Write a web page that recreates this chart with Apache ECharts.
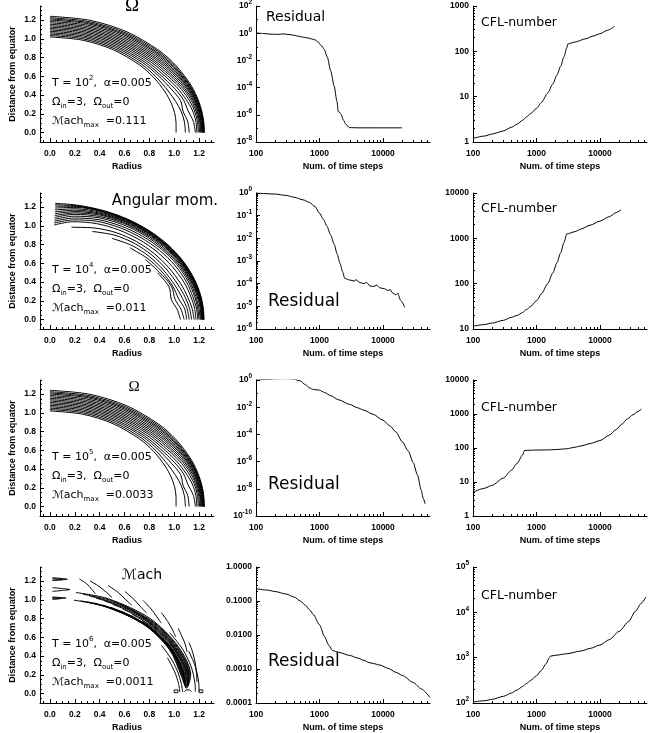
<!DOCTYPE html>
<html>
<head>
<meta charset="utf-8">
<script src="https://cdn.jsdelivr.net/npm/echarts@6.0.0/dist/echarts.min.js"></script>
<style>
  html, body { margin: 0; padding: 0; background: #fff; }
  #chart { width: 657px; height: 733px; }
</style>
</head>
<body>
<div id="chart"></div>
<script>
// ---- convergence runs: [time step, value] ----
const residualT2 = [[100,1.05],[130,0.95],[170,0.85],[220,0.82],[270,0.88],[330,0.8],[400,0.7],[480,0.58],[560,0.5],[650,0.45],[750,0.38],[850,0.32],[950,0.23],[1050,0.13],[1180,0.069],[1330,0.017],[1500,1.7e-3],[1700,1.3e-4],[1880,1e-5],[1975,1.7e-6],[2080,1.5e-6],[2170,1.15e-6],[2390,4e-7],[2600,2e-7],[2950,1.15e-7],[4000,1.1e-7],[20000,1.1e-7]];
const cflT2 = [[100,1.2],[150,1.35],[200,1.5],[300,1.75],[400,2.1],[500,2.5],[600,3.0],[700,3.6],[800,4.2],[1000,5.5],[1200,7.5],[1500,12],[1800,19],[2100,30],[2400,47],[2700,75],[3000,120],[3100,145],[4000,160],[6000,190],[8000,220],[10000,245],[13000,290],[17000,355]];
const residualT4 = [[100,1.0],[200,0.9],[300,0.78],[400,0.65],[550,0.5],[700,0.38],[850,0.25],[1000,0.13],[1150,0.07],[1300,0.035],[1500,0.014],[1700,5.5e-3],[1900,2e-3],[2100,8e-4],[2300,3.5e-4],[2500,1.7e-4],[3000,1.45e-4],[3500,1.3e-4],[3800,1.5e-4],[4200,1.15e-4],[5000,1.0e-4],[5500,1.15e-4],[6200,8e-5],[7000,7.5e-5],[8000,8.5e-5],[9000,6.5e-5],[10500,6e-5],[12000,5e-5],[13000,5.5e-5],[14000,4e-5],[16000,3.2e-5],[17000,3.8e-5],[19000,1.8e-5],[22000,9e-6]];
const cflT4 = [[100,11.5],[150,12.5],[200,13.5],[300,15.5],[400,18],[500,20],[600,23],[700,27],[800,31],[1000,42],[1200,60],[1500,100],[1800,170],[2100,290],[2400,480],[2700,800],[3000,1250],[4000,1400],[5000,1600],[7000,1950],[10000,2400],[14000,3000],[18000,3700],[21500,4300]];
const residualT5 = [[100,1.0],[150,1.1],[200,1.2],[300,1.25],[400,1.15],[500,0.85],[600,0.45],[700,0.26],[800,0.2],[900,0.19],[1000,0.18],[1200,0.12],[1500,0.07],[2000,0.035],[3000,0.016],[4000,0.009],[5000,0.006],[7000,3e-3],[10000,1.1e-3],[13000,4e-4],[16000,1.5e-4],[20000,3e-5],[25000,6e-6],[30000,8e-7],[35000,1e-7],[40000,8e-9],[43000,2e-9],[46000,8e-10]];
const cflT5 = [[100,5],[150,6.5],[200,8],[300,13],[400,22],[500,36],[600,62],[650,85],[800,86],[1000,87],[1500,88],[2000,90],[3000,95],[4000,105],[5000,115],[7000,135],[10000,165],[14000,240],[18000,350],[22000,500],[27000,720],[33000,950],[40000,1200],[45000,1400]];
const residualT6 = [[100,0.23],[150,0.21],[200,0.19],[300,0.16],[400,0.13],[500,0.1],[600,0.075],[700,0.055],[800,0.04],[1000,0.02],[1200,9e-3],[1400,5e-3],[1600,3.5e-3],[2000,3.1e-3],[3000,2.5e-3],[4000,2.1e-3],[5000,1.8e-3],[6000,1.55e-3],[7000,1.45e-3],[9000,1.3e-3],[12000,1.05e-3],[16000,8e-4],[20000,6.5e-4],[30000,4e-4],[40000,2.6e-4],[55000,1.45e-4]];
const cflT6 = [[100,105],[150,112],[200,120],[300,140],[400,165],[500,195],[600,230],[700,270],[800,310],[1000,400],[1200,530],[1400,720],[1600,1000],[1650,1080],[2000,1130],[3000,1220],[5000,1400],[7000,1600],[10000,1900],[14000,2500],[20000,3800],[28000,6200],[36000,10500],[45000,16000],[53000,22000]];

// ---- contour lines of the meridional plane, as radius at given latitude (deg) ----
const omegaLat = [90, 75, 60, 45, 35, 25, 18, 12, 6, 0];
const omegaT2 = [
  [1.020,1.020,1.020,1.020,1.021,1.023,1.025,1.025,1.020,1.015],
  [1.035,1.035,1.035,1.037,1.040,1.050,1.065,1.080,1.088,1.090],
  [1.050,1.050,1.051,1.055,1.062,1.082,1.105,1.095,1.115,1.120],
  [1.065,1.065,1.066,1.071,1.080,1.108,1.130,1.135,1.160,1.170],
  [1.080,1.080,1.082,1.088,1.100,1.130,1.150,1.170,1.180,1.182],
  [1.095,1.095,1.097,1.105,1.118,1.150,1.170,1.185,1.192,1.194],
  [1.110,1.110,1.112,1.120,1.135,1.165,1.185,1.196,1.202,1.204],
  [1.125,1.125,1.127,1.135,1.150,1.178,1.196,1.205,1.210,1.212],
  [1.140,1.140,1.142,1.150,1.165,1.190,1.205,1.212,1.216,1.218],
  [1.155,1.155,1.157,1.164,1.178,1.200,1.212,1.218,1.221,1.223],
  [1.170,1.170,1.172,1.178,1.190,1.208,1.218,1.223,1.226,1.227],
  [1.185,1.185,1.187,1.192,1.201,1.215,1.224,1.228,1.230,1.231],
  [1.200,1.200,1.201,1.205,1.212,1.222,1.229,1.232,1.234,1.234],
  [1.212,1.212,1.213,1.216,1.221,1.228,1.233,1.236,1.237,1.237],
  [1.225,1.225,1.226,1.228,1.230,1.234,1.237,1.239,1.240,1.240],
  [1.240,1.240,1.240,1.240,1.241,1.242,1.243,1.243,1.243,1.243]
];
const omegaT5 = omegaT2.map(c => c.slice());

const angLat = [88, 80, 70, 60, 50, 40, 30, 20, 12, 6, 0];
const angMomT4 = [
  [1.240,1.240,1.240,1.240,1.240,1.240,1.240,1.240,1.240,1.240,1.240],
  [1.225,1.232,1.235,1.236,1.236,1.236,1.236,1.236,1.237,1.237,1.237],
  [1.210,1.225,1.230,1.232,1.232,1.232,1.232,1.233,1.234,1.235,1.235],
  [1.190,1.215,1.225,1.227,1.228,1.228,1.229,1.230,1.232,1.233,1.233],
  [1.170,1.200,1.215,1.220,1.222,1.223,1.225,1.227,1.230,1.230,1.230],
  [1.150,1.185,1.205,1.213,1.216,1.218,1.220,1.223,1.226,1.228,1.228],
  [1.130,1.170,1.195,1.205,1.210,1.212,1.215,1.218,1.222,1.225,1.225],
  [1.110,1.155,1.185,1.195,1.200,1.205,1.208,1.212,1.217,1.220,1.220],
  [1.090,1.140,1.170,1.185,1.190,1.195,1.200,1.205,1.210,1.215,1.215],
  [1.070,1.120,1.155,1.170,1.178,1.183,1.190,1.196,1.200,1.205,1.210],
  [1.050,1.100,1.135,1.150,1.160,1.170,1.178,1.185,1.190,1.195,1.200],
  [1.030,1.080,1.115,1.130,1.140,1.150,1.160,1.170,1.175,1.185,1.190],
  [1.010,1.060,1.090,1.105,1.115,1.125,1.135,1.150,1.160,1.170,1.175],
  [null,1.000,1.040,1.070,1.085,1.095,1.105,1.120,1.135,1.150,1.160],
  [null,null,1.000,1.040,1.060,1.070,1.080,1.095,1.115,1.130,1.140],
  [null,null,null,1.000,1.030,1.045,1.055,1.070,1.090,1.110,1.120],
  [null,null,null,null,1.000,1.020,1.035,1.050,1.060,1.090,1.100],
  [null,null,null,null,null,1.000,1.015,1.040,1.030,1.060,1.080],
  [null,null,null,null,null,null,1.000,1.020,1.000,1.030,1.050]
];

// Mach contours: nested loops and open arcs as [lat, r], small features as [x, y]
const machLoopsT6 = [
  [[46,1.068],[36,1.08],[26,1.092],[18,1.099],[12,1.104],[10,1.108],[12,1.112],[18,1.108],[26,1.1],[36,1.088],[46,1.075]],
  [[52,1.058],[40,1.073],[28,1.087],[18,1.096],[11,1.1],[8,1.107],[11,1.116],[18,1.113],[28,1.104],[40,1.091],[52,1.074]],
  [[57,1.05],[44,1.066],[30,1.083],[18,1.093],[10,1.097],[7,1.106],[10,1.12],[18,1.118],[30,1.108],[44,1.095],[57,1.075]],
  [[62,1.043],[48,1.06],[32,1.079],[18,1.09],[10,1.094],[6,1.105],[10,1.124],[18,1.123],[32,1.112],[48,1.098],[62,1.077]],
  [[66,1.036],[52,1.053],[35,1.075],[20,1.087],[10,1.091],[5,1.104],[10,1.128],[20,1.127],[35,1.116],[52,1.1],[66,1.08]],
  [[70,1.03],[55,1.047],[38,1.07],[22,1.083],[10,1.088],[4.5,1.103],[10,1.133],[22,1.131],[38,1.12],[55,1.103],[70,1.083]],
  [[73,1.025],[58,1.04],[40,1.065],[24,1.079],[10,1.084],[4,1.102],[10,1.138],[24,1.136],[40,1.125],[58,1.107],[73,1.087]],
  [[76,1.02],[62,1.033],[42,1.06],[25,1.075],[10,1.079],[3.5,1.1],[10,1.144],[25,1.142],[42,1.13],[62,1.11],[76,1.092]],
  [[79,1.015],[65,1.027],[45,1.055],[26,1.07],[10,1.074],[3,1.1],[10,1.15],[26,1.148],[45,1.136],[65,1.115],[79,1.098]],
  [[79,1.245],[76,1.21],[73,1.16],[71,1.125]],
  [[75,1.245],[71,1.21],[67,1.17],[64,1.14]],
  [[68,1.245],[63,1.21],[59,1.175],[55,1.15]],
  [[61,1.245],[56,1.21],[52,1.18],[48,1.16]],
  [[53,1.245],[48,1.215],[44,1.19],[40,1.17]],
  [[44,1.245],[39,1.22],[35,1.2],[31,1.18]],
  [[34,1.245],[30,1.225],[26,1.21],[22,1.19]],
  [[26,1.245],[21,1.23],[16,1.215],[11,1.2],[6,1.19]],
  [[30,1.035],[20,1.045],[12,1.055],[6,1.062],[1,1.068]],
  [[22,1.02],[13,1.03],[6,1.04],[1,1.045]],
  [[1,1.17],[6,1.172],[14,1.172],[24,1.168],[34,1.162]],
  [[1,1.2],[6,1.203],[14,1.205],[22,1.205]]
];
const machBitsT6 = [
  [[0.02,1.236],[0.09,1.228],[0.14,1.22],[0.09,1.212],[0.02,1.205]],
  [[0.02,1.228],[0.07,1.222],[0.1,1.218],[0.07,1.214],[0.02,1.21]],
  [[0.02,1.13],[0.1,1.12],[0.16,1.11],[0.1,1.1],[0.02,1.09]],
  [[0.02,1.03],[0.08,1.025],[0.13,1.02],[0.08,1.012],[0.02,1.005]],
  [[0.02,1.024],[0.06,1.02],[0.09,1.016],[0.06,1.012],[0.02,1.01]],
  [[1.0,0.01],[1.0,0.04],[1.03,0.04],[1.03,0.01],[1.0,0.01]],
  [[1.08,0.02],[1.1,0.04],[1.12,0.04],[1.14,0.02]],
  [[1.2,0.01],[1.2,0.04],[1.23,0.04],[1.23,0.01],[1.2,0.01]]
];

// ---- tick labels ----
const radiusTicks = [0, 0.2, 0.4, 0.6, 0.8, 1.0, 1.2];
const stepTicks = [100, 1000, 10000];
const residualTicksT2 = [1e-8, 1e-6, 1e-4, 1e-2, 1, 100];
const residualTicksT4 = [1e-6, 1e-5, 1e-4, 1e-3, 1e-2, 1e-1, 1];
const residualTicksT5 = [1e-10, 1e-8, 1e-6, 1e-4, 1e-2, 1];
const residualTicksT6 = [1e-4, 1e-3, 1e-2, 1e-1, 1];
const cflTicksT2 = [1, 10, 100, 1000];
const cflTicksT4 = [10, 100, 1000, 10000];
const cflTicksT5 = [1, 10, 100, 1000, 10000];
const cflTicksT6 = [100, 1000, 10000, 100000];

const rowTop = [6, 193, 380, 567];
const colLeft = [40, 256, 473];
const panelW = 174, panelH = 136;

const black = '#000';
const tickFont = { color: black, fontFamily: 'Liberation Sans', fontWeight: 'bold', fontSize: 8.5 };
const nameFont = { color: black, fontFamily: 'Liberation Sans', fontWeight: 'bold', fontSize: 9 };

const expFmt = v => '10{e|' + Math.round(Math.log10(v)) + '}';
const plainFmt = v => String(Math.round(v));
const fixedFmt = d => v => v.toFixed(d);

function logMinors(lo, hi, perDecade) {
  const out = [];
  const e0 = Math.round(Math.log10(lo)), e1 = Math.round(Math.log10(hi));
  for (let e = e0; e < e1; e++) {
    if (perDecade) {
      for (let k = 2; k <= 9; k++) out.push(k * Math.pow(10, e));
    } else if ((e - e0) % 2 === 1) {
      out.push(Math.pow(10, e));
    }
  }
  return out;
}
function linMinors(lo, hi, step, majors) {
  const out = [];
  for (let v = lo; v <= hi + 1e-9; v += step) {
    const r = Math.round(v * 1000) / 1000;
    if (!majors.some(m => Math.abs(m - r) < 1e-6)) out.push(r);
  }
  return out;
}

const xAxes = [], yAxes = [], grids = [], series = [], texts = [];

function axisPair(list, dir, gi, o) {
  const pos = dir === 'x' ? 'bottom' : 'left';
  list.push({
    type: o.type, gridIndex: gi, position: pos, min: o.min, max: o.max,
    axisLine: { show: true, onZero: false, lineStyle: { color: black, width: 1 } },
    axisTick: { show: true, inside: true, length: 4, customValues: o.majors, lineStyle: { color: black, width: 1 } },
    axisLabel: Object.assign({ show: true, customValues: o.majors, formatter: o.fmt,
      margin: dir === 'x' ? 5 : 4, lineHeight: 14,
      rich: { e: { fontSize: 6.5, lineHeight: 7, verticalAlign: 'top', fontFamily: 'Liberation Sans', fontWeight: 'bold', color: black } } }, tickFont),
    splitLine: { show: false },
    name: o.name || '', nameLocation: 'middle', nameGap: o.nameGap || 15, nameTextStyle: nameFont
  });
  list.push({
    type: o.type, gridIndex: gi, position: pos, min: o.min, max: o.max,
    axisLine: { show: false, onZero: false },
    axisTick: { show: true, inside: true, length: 2, customValues: o.minors, lineStyle: { color: black, width: 1 } },
    axisLabel: { show: false },
    splitLine: { show: false }
  });
}

function addLine(gi, data, smooth) {
  series.push({
    type: 'line', xAxisIndex: 2 * gi, yAxisIndex: 2 * gi, data: data,
    symbol: 'none', smooth: smooth, smoothMonotone: smooth === 0.25 ? 'x' : undefined,
    silent: true, animation: false,
    lineStyle: { color: black, width: 1 }
  });
}

const toXY = (lat, r) => [r * Math.cos(lat * Math.PI / 180), r * Math.sin(lat * Math.PI / 180)];
const onLatGrid = (lats, rows) => rows.map(rr => rr.map((r, i) => r == null ? null : toXY(lats[i], r)).filter(Boolean));

const stepMinors = logMinors(100, 100000, true).filter(v => v < 55000);

const runs = [
  { residual: residualT2, rTicks: residualTicksT2, rMin: 1e-8, rMax: 100, rDense: false, rFmt: expFmt,
    cfl: cflT2, cTicks: cflTicksT2, cMin: 1, cMax: 1000, cFmt: plainFmt },
  { residual: residualT4, rTicks: residualTicksT4, rMin: 1e-6, rMax: 1, rDense: true, rFmt: expFmt,
    cfl: cflT4, cTicks: cflTicksT4, cMin: 10, cMax: 10000, cFmt: plainFmt },
  { residual: residualT5, rTicks: residualTicksT5, rMin: 1e-10, rMax: 1, rDense: false, rFmt: expFmt,
    cfl: cflT5, cTicks: cflTicksT5, cMin: 1, cMax: 10000, cFmt: plainFmt },
  { residual: residualT6, rTicks: residualTicksT6, rMin: 1e-4, rMax: 1, rDense: true, rFmt: fixedFmt(4),
    cfl: cflT6, cTicks: cflTicksT6, cMin: 100, cMax: 100000, cFmt: expFmt }
];

const contourSets = [
  onLatGrid(omegaLat, omegaT2),
  onLatGrid(angLat, angMomT4),
  onLatGrid(omegaLat, omegaT5),
  machLoopsT6.map(c => c.map(p => toXY(p[0], p[1]))).concat(machBitsT6)
];

runs.forEach((run, row) => {
  const top = rowTop[row];
  // left: meridional contour plot
  let gi = row * 3;
  grids.push({ left: colLeft[0], top: top, width: panelW, height: panelH, containLabel: false, outerBoundsMode: 'none' });
  axisPair(xAxes, 'x', gi, { type: 'value', min: -0.08, max: 1.32, majors: radiusTicks,
    minors: linMinors(-0.05, 1.3, 0.05, radiusTicks), fmt: fixedFmt(1), name: 'Radius', nameGap: 15 });
  axisPair(yAxes, 'y', gi, { type: 'value', min: -0.1, max: 1.35, majors: radiusTicks,
    minors: linMinors(-0.1, 1.35, 0.05, radiusTicks), fmt: fixedFmt(1), name: 'Distance from equator', nameGap: 23 });
  contourSets[row].forEach(c => addLine(gi, c, 0.3));

  // middle: residual
  gi = row * 3 + 1;
  grids.push({ left: colLeft[1], top: top, width: panelW, height: panelH, containLabel: false, outerBoundsMode: 'none' });
  axisPair(xAxes, 'x', gi, { type: 'log', min: 99.9, max: 55000, majors: stepTicks, minors: stepMinors,
    fmt: plainFmt, name: 'Num. of time steps', nameGap: 15 });
  axisPair(yAxes, 'y', gi, { type: 'log', min: run.rMin * 0.999, max: run.rMax * 1.001, majors: run.rTicks,
    minors: logMinors(run.rMin, run.rMax, run.rDense), fmt: run.rFmt });
  addLine(gi, run.residual, 0.25);

  // right: CFL number
  gi = row * 3 + 2;
  grids.push({ left: colLeft[2], top: top, width: panelW, height: panelH, containLabel: false, outerBoundsMode: 'none' });
  axisPair(xAxes, 'x', gi, { type: 'log', min: 99.9, max: 55000, majors: stepTicks, minors: stepMinors,
    fmt: plainFmt, name: 'Num. of time steps', nameGap: 15 });
  axisPair(yAxes, 'y', gi, { type: 'log', min: run.cMin * 0.999, max: run.cMax * 1.001, majors: run.cTicks,
    minors: logMinors(run.cMin, run.cMax, true), fmt: run.cFmt });
  addLine(gi, run.cfl, 0.25);
});

// ---- annotations ----
const richBits = {
  sup: { fontSize: 7, lineHeight: 8, verticalAlign: 'top', fontFamily: 'DejaVu Sans', fill: black },
  sub: { fontSize: 7, lineHeight: 8, verticalAlign: 'bottom', fontFamily: 'DejaVu Sans', fill: black }
};
function txt(x, y, text, size, family, align) {
  texts.push({
    type: 'text', x: x, y: y, silent: true,
    style: { text: text, fontSize: size, fontFamily: family || 'DejaVu Sans', fill: black,
      align: align || 'left', verticalAlign: 'middle', lineHeight: 16, rich: richBits }
  });
}
const tExp = ['2', '4', '5', '6'];
const machMax = ['0.111', '0.011', '0.0033', '0.0011'];
const annotOffset = [77, 96, 115];
rowTop.forEach((top, row) => {
  txt(52, top + annotOffset[0], 'T = 10{sup|' + tExp[row] + '},  α=0.005', 11);
  txt(52, top + annotOffset[1], 'Ω{sub|in}=3,  Ω{sub|out}=0', 11);
  txt(52, top + annotOffset[2], 'ℳach{sub|max}  =' + machMax[row], 11);
});
txt(132, 6, 'Ω', 19, 'Liberation Serif', 'center');
txt(165, 201, 'Angular mom.', 15, 'DejaVu Sans', 'center');
txt(134, 387, 'Ω', 15, 'Liberation Serif', 'center');
txt(142, 575, 'ℳach', 14, 'DejaVu Sans', 'center');
txt(266, 17, 'Residual', 14);
txt(268, 302, 'Residual', 17);
txt(268, 485, 'Residual', 17);
txt(268, 662, 'Residual', 17);
txt(481, 23, 'CFL-number', 12.5);
txt(481, 209, 'CFL-number', 12.5);
txt(481, 408, 'CFL-number', 12.5);
txt(481, 596, 'CFL-number', 12.5);

const chart = echarts.init(document.getElementById('chart'));
chart.setOption({
  backgroundColor: '#fff',
  animation: false,
  grid: grids,
  xAxis: xAxes,
  yAxis: yAxes,
  series: series,
  graphic: texts
});
</script>
</body>
</html>
